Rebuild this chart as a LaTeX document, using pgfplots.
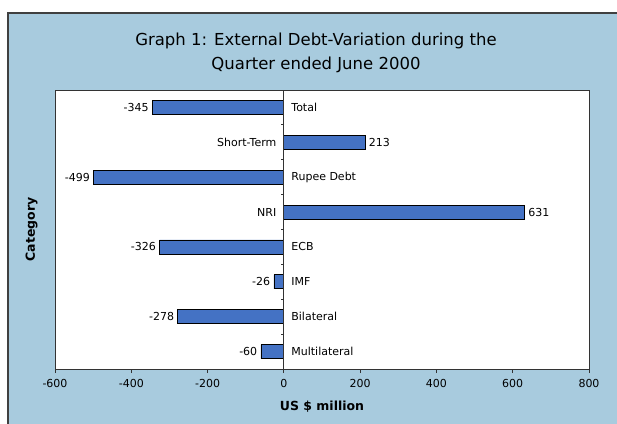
\documentclass[border=0pt]{standalone}
\usepackage{pgfplots}
\pgfplotsset{compat=1.18}
\usepackage{fontspec}
\setmainfont{DejaVu Sans}
\definecolor{panel}{RGB}{168,203,222}
\definecolor{barblue}{RGB}{68,114,196}
\begin{document}
\begin{tikzpicture}[x=1pt,y=1pt]
\useasboundingbox (-55,-54) rectangle (562,369);
\clip (-55,-54) rectangle (562,369);
\fill[white] (-60,-60) rectangle (570,375);
\fill[panel] (-47,-60) rectangle (570,356);
\draw[black!75, line width=1.2pt] (-47,-60) -- (-47,356) -- (570,356);
\begin{axis}[
  at={(0,0)}, anchor=south west,
  scale only axis, width=534pt, height=279pt,
  xmin=-600, xmax=800, ymin=-0.5, ymax=7.5,
  xtick={-600,-400,-200,0,200,400,600,800},
  xtick pos=bottom,
  ytick=\empty,
  /pgf/number format/assume math mode=true,
  axis background/.style={fill=white},
  axis line style={black!80, line width=0.9pt},
  x tick style={black!80, line width=0.8pt},
  tick align=outside, major tick length=4pt,
  xticklabel style={font=\fontsize{11}{12}\selectfont, yshift=-3pt},
  xlabel={\bfseries US \$ million},
  xlabel style={font=\fontsize{12.5}{15}\selectfont, yshift=-6pt},
  ylabel={\bfseries Category},
  ylabel style={font=\fontsize{12.5}{15}\selectfont, yshift=10pt},
  title={Graph 1: External Debt-Variation during the\\Quarter ended June 2000},
  title style={font=\fontsize{16.5}{24}\selectfont, align=center, yshift=8pt, xshift=-6pt},
  clip=false,
]
\addplot[xbar, bar width=14pt, fill=barblue, draw=black, line width=0.8pt,
  nodes near coords,
  nodes near coords style={font=\fontsize{11}{12}\selectfont, text=black}]
  coordinates {(-60,0) (-278,1) (-26,2) (-326,3) (631,4) (-499,5) (213,6) (-345,7)};
\addplot[only marks, mark=*, mark size=0pt, mark options={draw opacity=0, fill opacity=0},
  point meta=explicit symbolic, nodes near coords,
  nodes near coords style={anchor=west, font=\fontsize{11}{12}\selectfont, text=black, text opacity=1, xshift=4pt}]
  coordinates {(0,7) [Total] (0,5) [Rupee Debt] (0,3) [ECB] (0,2) [IMF] (0,1) [Bilateral] (0,0) [Multilateral]};
\addplot[only marks, mark=*, mark size=0pt, mark options={draw opacity=0, fill opacity=0},
  point meta=explicit symbolic, nodes near coords,
  nodes near coords style={anchor=east, font=\fontsize{11}{12}\selectfont, text=black, text opacity=1, xshift=-4pt}]
  coordinates {(0,6) [Short-Term] (0,4) [NRI]};
\draw[black!80, line width=0.9pt] (axis cs:0,-0.5) -- (axis cs:0,7.5);
\pgfplotsinvokeforeach{0.5,1.5,2.5,3.5,4.5,5.5,6.5}{
  \draw[black!80, line width=0.8pt] (axis cs:0,#1) -- ++(-3pt,0pt);
}
\end{axis}
\end{tikzpicture}
\end{document}
